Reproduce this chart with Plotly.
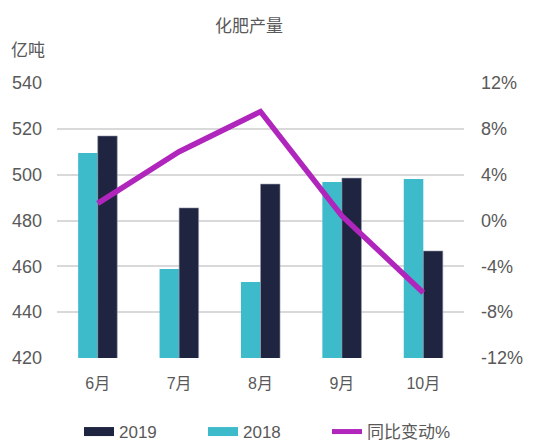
import plotly.graph_objects as go

months = ["6月", "7月", "8月", "9月", "10月"]
v2018 = [509.5, 458.8, 453.2, 496.8, 498.1]
v2019 = [516.9, 485.5, 495.9, 498.5, 466.7]
yoy = [1.5, 6.0, 9.5, 0.4, -6.3]

left_ticks = [420, 440, 460, 480, 500, 520, 540]
right_ticks = [-12, -8, -4, 0, 4, 8, 12]
right_labels = [f"{t}%" for t in right_ticks]

FONT = "Liberation Sans, Arial, Noto Sans CJK SC, sans-serif"
GREY = "#595959"
C2019 = "#1f2440"
C2018 = "#3dbbcb"
CLINE = "#b025bb"

# page body has an 8px default margin; figure sized to fit the window
OFF = 8
W, H = 547 - OFF, 442 - OFF
L = 57 - OFF
T = 83 - OFF
R = W - (464 - OFF)
B = H - (358 - OFF)
pw = W - L - R
ph = H - T - B

def px_x(x):  # screen pixel -> paper
    return (x - OFF - L) / pw

def px_y(y):
    return 1 - (y - OFF - T) / ph

fig = go.Figure()
fig.add_trace(go.Bar(x=months, y=v2018, name="2018", marker=dict(color=C2018, line=dict(width=0)),
                     showlegend=False))
fig.add_trace(go.Bar(x=months, y=v2019, name="2019", marker=dict(color=C2019, line=dict(color="#9aa0b0", width=0.6)),
                     showlegend=False))
fig.add_trace(go.Scatter(x=months, y=yoy, name="同比变动%", mode="lines", yaxis="y2",
                         line=dict(color=CLINE, width=5.5), showlegend=False))
# legend entries (wide swatches as in the reference)
fig.add_trace(go.Scatter(x=[None], y=[None], name="2019", mode="lines", line=dict(color=C2019, width=9)))
fig.add_trace(go.Scatter(x=[None], y=[None], name="2018", mode="lines", line=dict(color=C2018, width=9)))
fig.add_trace(go.Scatter(x=[None], y=[None], name="同比变动%", mode="lines", line=dict(color=CLINE, width=5)))

fig.update_layout(
    width=W, height=H,
    margin=dict(l=L, r=R, t=T, b=B, autoexpand=False),
    paper_bgcolor="white", plot_bgcolor="white",
    font=dict(family=FONT, size=18, color=GREY),
    barmode="group", bargap=0.52, bargroupgap=0,
    showlegend=True,
    legend=dict(orientation="h", x=px_x(79), xanchor="left", y=px_y(432), yanchor="middle",
                font=dict(size=17, color=GREY), entrywidth=79, traceorder="normal",
                bgcolor="rgba(0,0,0,0)"),
    xaxis=dict(showgrid=False, showline=False, ticks="", tickfont=dict(size=16), ticklabelstandoff=14,
               automargin=False),
    yaxis=dict(range=[420, 540], tickvals=left_ticks, showgrid=True, gridcolor="#d9d9d9", gridwidth=1.5,
               zeroline=False, showline=False, ticks="", ticklabelstandoff=14, automargin=False),
    yaxis2=dict(range=[-12, 12], tickvals=right_ticks, ticktext=right_labels, overlaying="y", side="right",
                showgrid=False, zeroline=False, showline=False, ticks="", ticklabelstandoff=16,
                automargin=False),
    annotations=[
        dict(text="化肥产量", x=px_x(249), y=px_y(25), xref="paper", yref="paper", showarrow=False,
             xanchor="center", yanchor="middle",
             font=dict(size=17, color=GREY, family="Noto Sans CJK SC")),
        dict(text="亿吨", x=px_x(9), y=px_y(48), xref="paper", yref="paper", showarrow=False,
             xanchor="left", yanchor="middle",
             font=dict(size=17, color=GREY, family="Noto Sans CJK SC")),
    ],
)

fig.write_html("out.html")
